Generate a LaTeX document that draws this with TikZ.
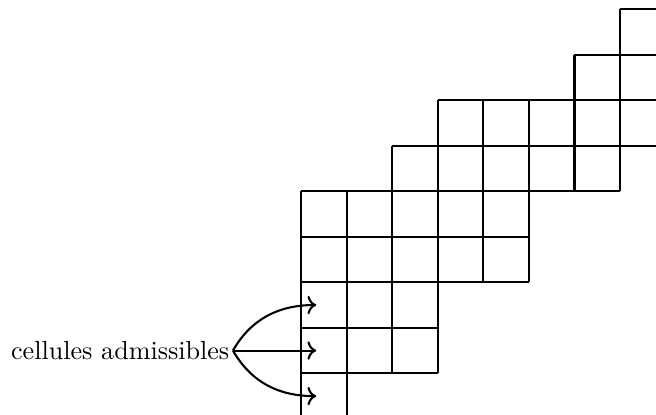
\documentclass[tikz,border=0pt]{standalone}
\usetikzlibrary{arrows.meta}
\begin{document}
\begin{tikzpicture}[scale=0.613,thick]
        \clip (-6.615,-0.901) rectangle (7.79,8.198);
        % rangees de cellules : bas / debut / fin
        \foreach \y/\a/\b in {-1/0/1,0/0/3,1/0/3,2/0/5,3/0/5,4/2/7,5/3/9,6/6/9,7/7/9}
          \draw (\a,\y) grid (\b,\y+1);
        \node[inner sep=1pt,anchor=east] (adm) at (-1.5,0.5) {cellules admissibles};
        \coordinate (haut) at (0.33,1.5);
        \coordinate (mil) at (0.33,0.5);
        \coordinate (bas) at (0.33,-0.5);
        \draw[->] (adm.east) to[out=60,in=180] (haut);
        \draw[->] (adm.east) -- (mil);
        \draw[->] (adm.east) to[out=-60,in=180] (bas);
      \end{tikzpicture}
\end{document}
